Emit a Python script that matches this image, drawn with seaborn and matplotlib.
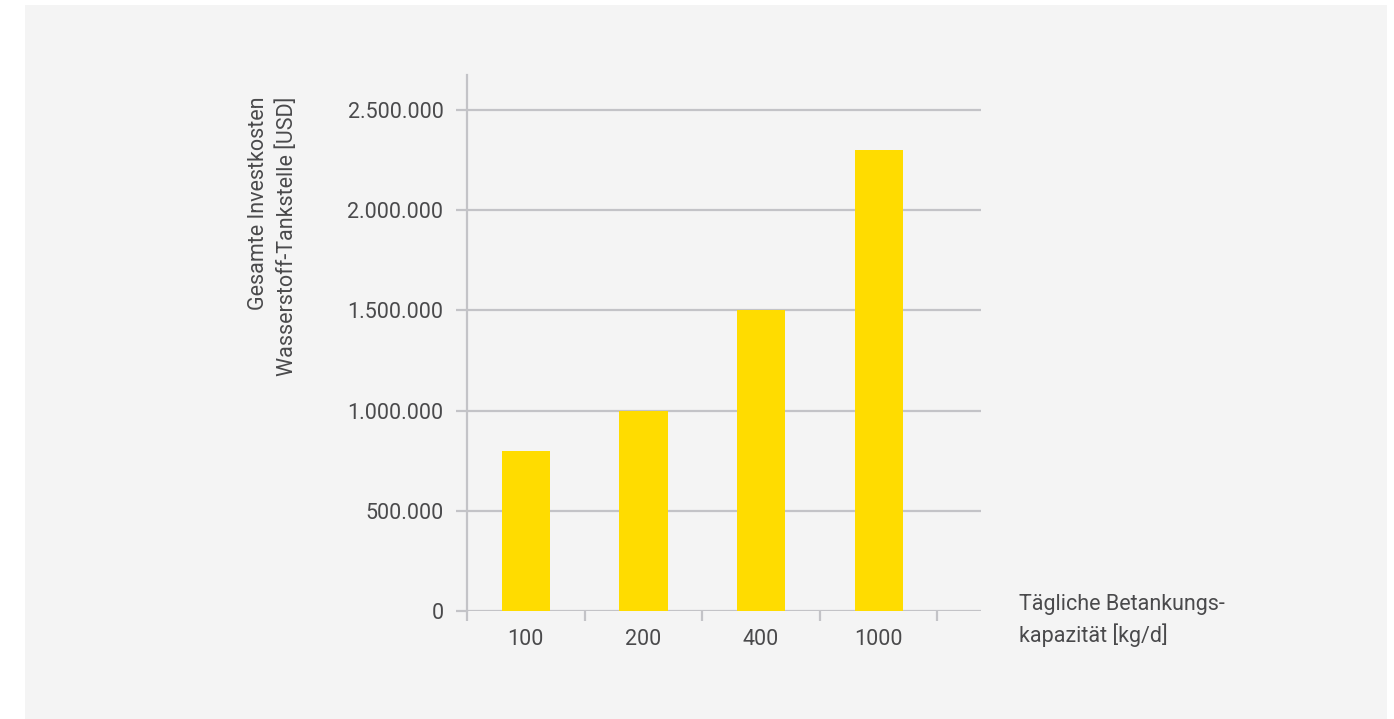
import matplotlib
matplotlib.use("Agg")
import matplotlib.pyplot as plt
from matplotlib.patches import Rectangle
from matplotlib.ticker import FuncFormatter, FixedLocator
import seaborn as sns
import pandas as pd

# Daily refuelling capacity (kg/d) and total investment cost per hydrogen station (USD)
capacities = ["100", "200", "400", "1000"]
invest_usd = [800000, 1000000, 1500000, 2300000]
y_ticks = [0, 500000, 1000000, 1500000, 2000000, 2500000]

df = pd.DataFrame({"Kapazität": capacities, "Investkosten": invest_usd})

sns.set_theme(style="white")
plt.rcParams["font.family"] = ["Roboto", "DejaVu Sans"]

TEXT = "#4a4a4c"
GRID = "#c3c3c7"
BAR = "#ffdc00"
PANEL = "#f4f4f4"

fig = plt.figure(figsize=(13.94, 7.19), dpi=100)
fig.patch.set_facecolor("white")
fig.patches.append(Rectangle((25 / 1394, 0), (1387 - 25) / 1394, 1 - 5 / 719,
                             transform=fig.transFigure, facecolor=PANEL,
                             edgecolor="none", zorder=-10))

ax = fig.add_axes([467 / 1394, 1 - 611 / 719, (981 - 467) / 1394, (611 - 75) / 719])
ax.set_facecolor("none")

sns.barplot(data=df, x="Kapazität", y="Investkosten", color=BAR, saturation=1,
            width=0.41, linewidth=0, ax=ax, zorder=3)

ax.set_xlim(-0.5, 3.87)
ax.set_ylim(0, 2675000)

# y axis: thousands separated with dots
ax.yaxis.set_major_locator(FixedLocator(y_ticks))
ax.yaxis.set_major_formatter(FuncFormatter(lambda v, p: f"{int(v):,}".replace(",", ".")))
ax.grid(axis="y", color=GRID, linewidth=1.6, zorder=0)
ax.set_axisbelow(True)

# x axis: labels at category centres, tick marks at category boundaries
ax.set_xticks(range(len(capacities)))
ax.set_xticklabels(capacities)
ax.set_xticks([-0.5, 0.5, 1.5, 2.5, 3.5], minor=True)
ax.tick_params(axis="x", which="major", length=0, pad=13, labelsize=15.5, labelcolor=TEXT)
ax.tick_params(axis="x", which="minor", length=7.5, width=1.6, color=GRID, direction="out")
ax.tick_params(axis="y", which="major", length=8, width=1.6, color=GRID, pad=9,
               labelsize=15.5, labelcolor=TEXT, left=True)
ax.xaxis.set_ticks_position("bottom")

for side in ["top", "right", "bottom"]:
    ax.spines[side].set_visible(False)
ax.spines["left"].set_color(GRID)
ax.spines["left"].set_linewidth(1.6)

ax.set_xlabel("")
ax.set_ylabel("")

fig.text(273 / 1394, 1 - 97 / 719, "Gesamte Investkosten\nWasserstoff-Tankstelle [USD]",
         rotation=90, ha="center", va="top", multialignment="right",
         fontsize=15.5, color=TEXT, linespacing=1.45)
fig.text(1019 / 1394, 1 - 594 / 719, "Tägliche Betankungs-\nkapazität [kg/d]",
         ha="left", va="top", fontsize=15.5, color=TEXT, linespacing=1.45)

fig.savefig("out.png", dpi=100, facecolor=fig.get_facecolor())
